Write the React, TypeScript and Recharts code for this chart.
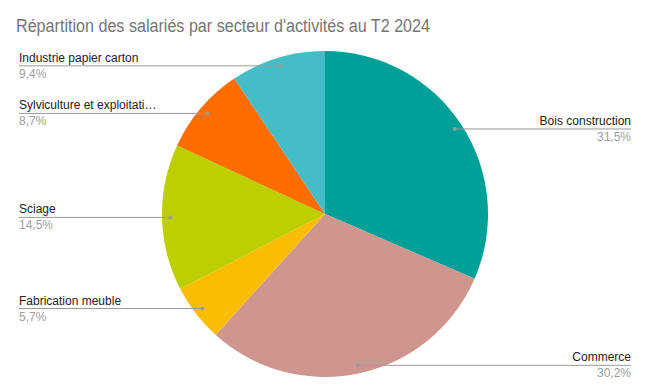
import React from 'react';
import { PieChart, Pie, Cell } from 'recharts';

const sectors = [
  'Bois construction',
  'Commerce',
  'Fabrication meuble',
  'Sciage',
  'Sylviculture et exploitati…',
  'Industrie papier carton'
];
const shares = [31.5, 30.2, 5.7, 14.5, 8.7, 9.4];
const sliceColors = ['#00a098', '#ce968f', '#fbbc04', '#bdcf00', '#ff6d01', '#46bdc6'];

const data = sectors.map((name, i) => ({ name, value: shares[i] }));

const RAD = Math.PI / 180;

function renderLabel(props: any) {
  const { cx, cy, midAngle, outerRadius, index } = props;
  const r = outerRadius * 0.95;
  const x = cx + r * Math.cos(-midAngle * RAD);
  const y = cy + r * Math.sin(-midAngle * RAD);
  const left = x < cx;
  const endX = left ? 19 : 631;
  const pct = shares[index].toFixed(1).replace('.', ',') + '%';
  return (
    <g>
      <line x1={x} y1={y} x2={endX} y2={y} stroke="#9a9a9a" strokeWidth={1} />
      <circle cx={x} cy={y} r={2} fill="#9a9a9a" />
      <text x={endX} y={y - 4} textAnchor={left ? 'start' : 'end'} fontSize={12} fill="#222">
        {sectors[index]}
      </text>
      <text x={endX} y={y + 12} textAnchor={left ? 'start' : 'end'} fontSize={12} fill="#9e9e9e">
        {pct}
      </text>
    </g>
  );
}

export default function App() {
  return (
    <div style={{ position: 'fixed', left: 0, top: 0, width: 645, height: 385, background: '#fff', fontFamily: '"Liberation Sans", Arial, sans-serif' }}>
      <PieChart width={645} height={385} style={{ position: 'absolute', left: 0, top: 0 }}>
        <Pie
          data={data}
          dataKey="value"
          nameKey="name"
          cx={320}
          cy={209}
          outerRadius={163}
          startAngle={90}
          endAngle={-270}
          label={renderLabel}
          labelLine={false}
          stroke="none"
          isAnimationActive={false}
        >
          {data.map((d, i) => (
            <Cell key={d.name} fill={sliceColors[i]} />
          ))}
        </Pie>
      </PieChart>
      <svg width={645} height={40} style={{ position: 'absolute', left: 0, top: 0 }}>
        <text x={16} y={32} fontSize={18} fill="#757575" textLength={414} lengthAdjust="spacingAndGlyphs">
          Répartition des salariés par secteur d'activités au T2 2024
        </text>
      </svg>
    </div>
  );
}
